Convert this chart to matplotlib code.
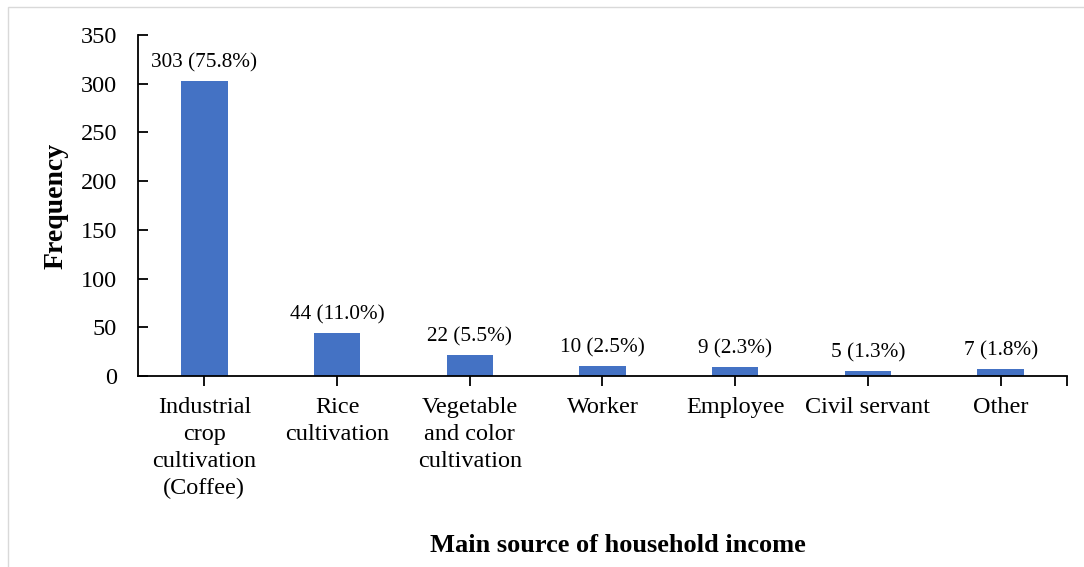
import matplotlib.pyplot as plt
from matplotlib.patches import Rectangle

categories = [
    "Industrial\ncrop\ncultivation\n(Coffee)",
    "Rice\ncultivation",
    "Vegetable\nand color\ncultivation",
    "Worker",
    "Employee",
    "Civil servant",
    "Other",
]
counts = [303, 44, 22, 10, 9, 5, 7]
percents = [75.8, 11.0, 5.5, 2.5, 2.3, 1.3, 1.8]
y_ticks = [0, 50, 100, 150, 200, 250, 300, 350]

plt.rcParams["font.family"] = ["Liberation Serif", "DejaVu Serif"]

fig = plt.figure(figsize=(10.84, 5.67), dpi=100)
ax = fig.add_axes([0.1273, 0.3369, 0.857, 0.6014])

# light frame around the chart area
fig.patches.append(Rectangle((8 / 1084, -0.01), 1.02, 1 - 7 / 567 + 0.01,
                             transform=fig.transFigure, fill=False,
                             edgecolor="#d9d9d9", linewidth=1.0))

x = list(range(len(categories)))
ax.bar(x, counts, width=0.35, color="#4472c4", zorder=2)

for xi, c, p in zip(x, counts, percents):
    ax.annotate(f"{c} ({p:.1f}%)", (xi, c), xytext=(0, 6), textcoords="offset points",
                ha="center", va="bottom", fontsize=15.3)

ax.set_xlim(-0.5, len(categories) - 0.5)
ax.set_ylim(0, 350)
ax.set_yticks(y_ticks)
ax.set_xticks(x + [len(categories) - 0.5])
ax.set_xticklabels(categories + [""], fontsize=17.5, linespacing=1.38)
ax.tick_params(axis="y", direction="in", length=7, width=1.3, labelsize=17.5, pad=15)
ax.tick_params(axis="x", direction="out", length=7, width=1.3, pad=8)

for side in ["top", "right"]:
    ax.spines[side].set_visible(False)
for side in ["left", "bottom"]:
    ax.spines[side].set_linewidth(1.3)

ax.set_ylabel("Frequency", fontsize=20, fontweight="bold", labelpad=9)
ax.set_xlabel("Main source of household income", fontsize=19, fontweight="bold")
ax.xaxis.label.set_va("center")
ax.xaxis.set_label_coords(0.517, -0.496)

fig.savefig("out.png", dpi=100)
